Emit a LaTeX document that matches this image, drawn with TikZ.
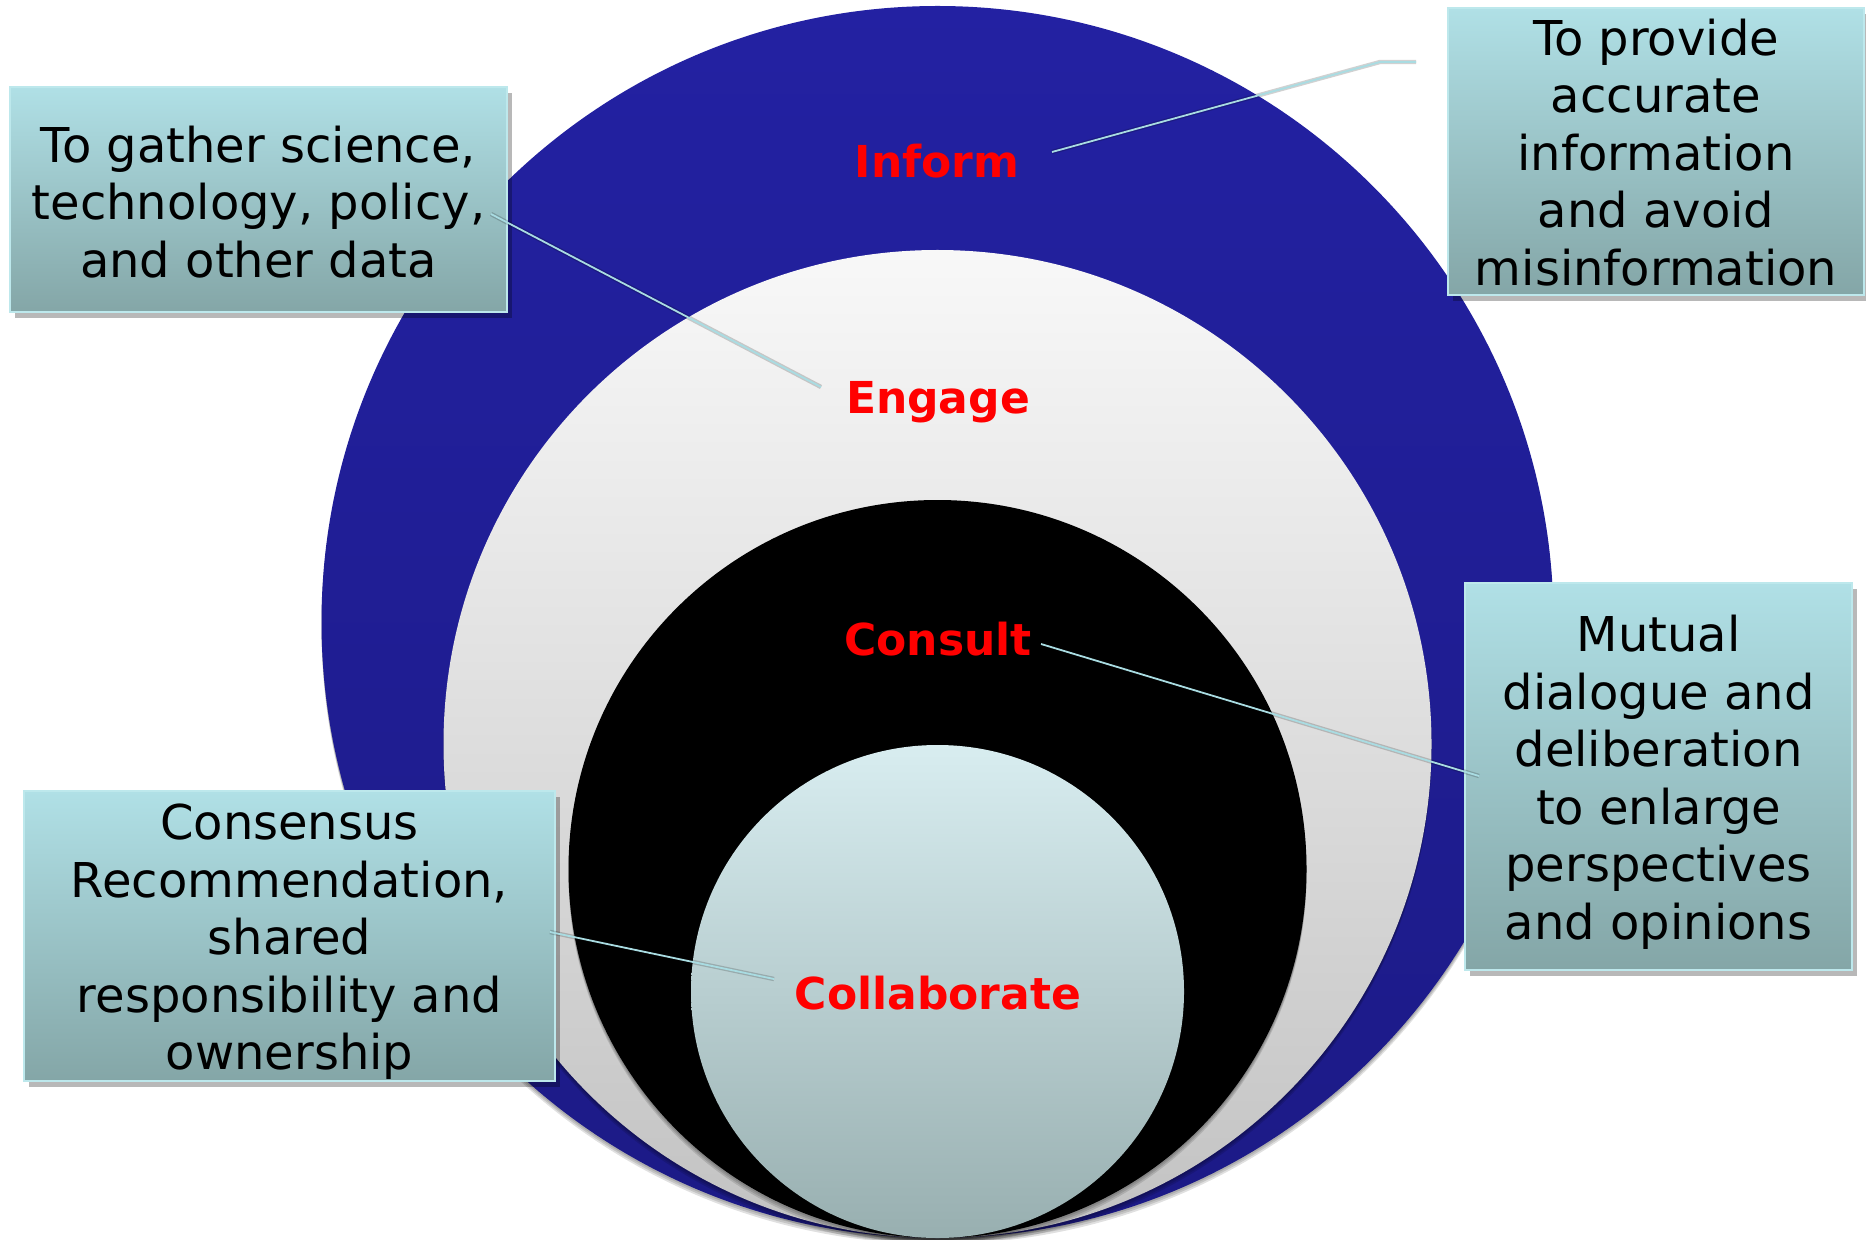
\documentclass[tikz,border=0pt]{standalone}
\usepackage{fontspec}
\setmainfont{DejaVu Sans}
\usetikzlibrary{shadows}
\definecolor{bluetop}{HTML}{2321A2}
\definecolor{bluebot}{HTML}{1C1A86}
\definecolor{engtop}{HTML}{F8F8F8}
\definecolor{engbot}{HTML}{C2C2C2}
\definecolor{coltop}{HTML}{D8EDF0}
\definecolor{colbot}{HTML}{98AFB0}
\definecolor{boxtop}{HTML}{B0E0E6}
\definecolor{boxbot}{HTML}{84A6A7}
\definecolor{boxedge}{HTML}{BDE8EC}
\definecolor{linec}{HTML}{A9DCE2}
\definecolor{lblred}{HTML}{FF0000}
\begin{document}
\begin{tikzpicture}[x=0.5pt,y=-0.5pt,
  txtbox/.style={draw=boxedge, line width=0.8pt, top color=boxtop, bottom color=boxbot,
    inner sep=0pt,
    drop shadow={shadow xshift=2.5pt, shadow yshift=-3pt, fill=black, opacity=0.28}},
  boxtext/.style={align=center, inner sep=0pt, font=\fontsize{24pt}{28.75pt}\selectfont},
  lbl/.style={text=lblred, font=\fontsize{22pt}{26pt}\selectfont\bfseries, inner sep=0pt},
  conn/.style={draw=linec, line width=0.9pt},
  connshadow/.style={draw=black, line width=2.2pt, opacity=0.18},
  cshadow/.style={fill=black, opacity=0.12}]
\useasboundingbox (0,0) rectangle (1866,1240);
\fill[white] (0,0) rectangle (1866,1240);
% circles with soft shadows
\foreach \d in {2,4,6} {\fill[cshadow] (937.5,622+\d) circle [radius=308pt];}
\shade[top color=bluetop, bottom color=bluebot] (937.5,622) circle [radius=308pt];
\foreach \d in {2,4,6} {\fill[cshadow] (937.5,744+\d) circle [radius=247pt];}
\shade[top color=engtop, bottom color=engbot] (937.5,744) circle [radius=247pt];
\foreach \d in {2,4,6} {\fill[cshadow] (937.5,869+\d) circle [radius=184.5pt];}
\fill[black] (937.5,869) circle [radius=184.5pt];
\foreach \d in {2,4,6} {\fill[cshadow] (937.5,991.5+\d) circle [radius=123.25pt];}
\shade[top color=coltop, bottom color=colbot] (937.5,991.5) circle [radius=123.25pt];
% labels
\node[lbl] (inform) at (937,161) {Inform};
\node[lbl] (engage) at (938,402) {Engage};
\node[lbl] (consult) at (938,639) {Consult};
\node[lbl] (collab) at (938,993) {Collaborate};
% boxes
\node[txtbox, minimum width=248.5pt, minimum height=112.5pt] (b1) at (258.5,199.5) {};
\node[boxtext] (b1t) at (258.5,202)
  {To gather science,\\technology, policy,\\and other data};
\node[txtbox, minimum width=208pt, minimum height=143.5pt] (b2) at (1656,151.5) {};
\node[boxtext] (b2t) at (1656,152.5)
  {To provide\\accurate\\information\\and avoid\\misinformation};
\node[txtbox, minimum width=193.5pt, minimum height=193.5pt] (b3) at (1658.5,776.5) {};
\node[boxtext] (b3t) at (1658.5,782)
  {Mutual\\dialogue and\\deliberation\\to enlarge\\perspectives\\and opinions};
\node[txtbox, minimum width=265.5pt, minimum height=145pt] (b4) at (289.5,936) {};
\node[boxtext] (b4t) at (289.5,942)
  {Consensus\\Recommendation,\\shared\\responsibility and\\ownership};
% connector points
\coordinate (ia) at (1052,152);
\coordinate (ib) at (1380,62);
\coordinate (ic) at (1416,62);
\coordinate (ea) at (491,214);
\coordinate (eb) at (821,387);
\coordinate (ca) at (1041,644);
\coordinate (cb) at (1479,776);
\coordinate (la) at (550,932);
\coordinate (lb) at (774,979);
% connectors
\begin{scope}[yshift=-2.5pt]
\draw[connshadow] (ia) -- (ib) -- (ic);
\draw[connshadow] (ea) -- (eb);
\draw[connshadow] (ca) -- (cb);
\draw[connshadow] (la) -- (lb);
\end{scope}
\draw[conn] (ia) -- (ib) -- (ic);
\draw[conn] (ea) -- (eb);
\draw[conn] (ca) -- (cb);
\draw[conn] (la) -- (lb);
\end{tikzpicture}
\end{document}
